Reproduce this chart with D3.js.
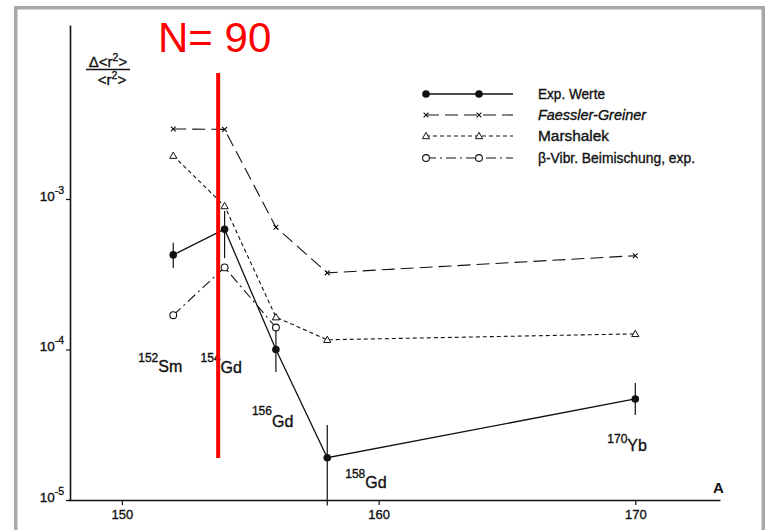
<!DOCTYPE html>
<html>
<head>
<meta charset="utf-8">
<script src="https://cdn.jsdelivr.net/npm/d3@7"></script>
<style>
  html, body { margin: 0; padding: 0; background: #fff; }
  svg { display: block; font-family: "Liberation Sans", Arial, sans-serif; }
</style>
</head>
<body>
<svg id="chart" width="767" height="530"></svg>
<script>
// Mass numbers of the isotopes and their element symbols
const masses = [152, 154, 156, 158, 170];
const massLabels = ["152", "154", "156", "158", "170"];
const elements = ["Sm", "Gd", "Gd", "Gd", "Yb"];

// Relative change of the mean-square charge radius, Δ<r²>/<r²>
const expValues = [4.25e-4, 6.3e-4, 1.0e-4, 1.91e-5, 4.69e-5];
const expErrLow = [3.48e-4, 4.05e-4, 7.1e-5, 9.2e-6, 3.67e-5];
const expErrHigh = [5.11e-4, 8.32e-4, 1.35e-4, 3.15e-5, 5.98e-5];
const faesslerValues = [2.92e-3, 2.9e-3, 6.49e-4, 3.23e-4, 4.2e-4];
const marshalekValues = [1.94e-3, 8.98e-4, 1.64e-4, 1.16e-4, 1.27e-4];
const betaMasses = [152, 154, 156];
const betaValues = [1.69e-4, 3.51e-4, 1.40e-4];

// Axis ticks
const xTicks = [150, 160, 170];
const xTickLabels = ["150", "160", "170"];
const yTicks = [1e-5, 1e-4, 1e-3];
const yTickExponents = ["-5", "-4", "-3"];

// Legend entries
const legendNames = ["Exp. Werte", "Faessler-Greiner", "Marshalek", "β-Vibr. Beimischung, exp."];

// Highlighted neutron number
const markerMass = 153.75;
const markerText = "N= 90";

const svg = d3.select("#chart");
const ink = "#111";

// outer grey frame
svg.append("rect")
  .attr("x", 15.75).attr("y", 7.75)
  .attr("width", 747.5).attr("height", 560)
  .attr("fill", "none").attr("stroke", "#a8a8a8").attr("stroke-width", 3.5);

const x = d3.scaleLinear().domain([147.9, 173.3]).range([68, 720]);
const y = d3.scaleLog().domain([1e-5, Math.pow(10, -1.844)]).range([500, 25]);

// slightly heavy text, like printed lettering
const heavy = sel => sel.attr("stroke", ink).attr("stroke-width", 0.35);

// x axis
const xAxis = d3.axisBottom(x)
  .tickValues(xTicks)
  .tickSize(5)
  .tickSizeOuter(0)
  .tickFormat((d, i) => xTickLabels[i]);
const gx = svg.append("g").attr("transform", "translate(0,500)").call(xAxis);
gx.select(".domain").attr("stroke", ink).attr("stroke-width", 1.6);
gx.selectAll(".tick line").attr("stroke", ink).attr("stroke-width", 1.2);
gx.selectAll(".tick text").attr("fill", ink).attr("font-size", 13).attr("dy", "0.85em").call(heavy);

svg.append("text").attr("x", 713).attr("y", 493)
  .attr("font-size", 15).attr("font-weight", "bold").attr("fill", ink).text("A");

// y axis
const yAxis = d3.axisLeft(y)
  .tickValues(yTicks)
  .tickSize(4)
  .tickSizeOuter(0)
  .tickFormat("");
const gy = svg.append("g").attr("transform", "translate(70,0)").call(yAxis);
gy.select(".domain").attr("stroke", ink).attr("stroke-width", 1.6);
gy.selectAll(".tick line").attr("stroke", ink).attr("stroke-width", 1.2);

const yLab = svg.append("g").selectAll("text").data(yTicks).join("text")
  .attr("x", 64).attr("y", d => y(d) + 2)
  .attr("text-anchor", "end").attr("fill", ink).attr("font-size", 13.5).call(heavy);
yLab.append("tspan").text("10");
yLab.append("tspan").attr("dy", -7).attr("font-size", 10.5).text((d, i) => yTickExponents[i]);

// y axis title as a fraction
const title = svg.append("g").attr("fill", ink);
const num = title.append("text").attr("x", 108).attr("y", 67).attr("text-anchor", "middle")
  .attr("font-size", 15).call(heavy);
num.append("tspan").text("Δ<r");
num.append("tspan").attr("dy", -6).attr("font-size", 10.5).text("2");
num.append("tspan").attr("dy", 6).text(">");
title.append("line").attr("x1", 86).attr("x2", 130).attr("y1", 69.5).attr("y2", 69.5)
  .attr("stroke", ink).attr("stroke-width", 1.3);
const den = title.append("text").attr("x", 112).attr("y", 85).attr("text-anchor", "middle")
  .attr("font-size", 15).call(heavy);
den.append("tspan").text("<r");
den.append("tspan").attr("dy", -6).attr("font-size", 10.5).text("2");
den.append("tspan").attr("dy", 6).text(">");

// series lines
const line = d3.line().x(d => x(d[0])).y(d => y(d[1]));
const pairs = (xs, vs) => xs.map((m, i) => [m, vs[i]]);

const series = [
  { pts: pairs(masses, expValues), dash: null, marker: "dot" },
  { pts: pairs(masses, faesslerValues), dash: "13,6", marker: "cross" },
  { pts: pairs(masses, marshalekValues), dash: "4,3", marker: "tri" },
  { pts: pairs(betaMasses, betaValues), dash: "10,4,2,4", marker: "ring" }
];

function drawMarker(g, kind, cx, cy) {
  if (kind === "dot") {
    g.append("circle").attr("cx", cx).attr("cy", cy).attr("r", 3.8).attr("fill", ink);
  } else if (kind === "cross") {
    const s = 2.4;
    g.append("path")
      .attr("d", `M${cx - s},${cy - s}L${cx + s},${cy + s}M${cx - s},${cy + s}L${cx + s},${cy - s}`)
      .attr("stroke", ink).attr("stroke-width", 1.1).attr("fill", "none");
  } else if (kind === "tri") {
    const s = 3.6;
    g.append("path")
      .attr("d", `M${cx},${cy - s}L${cx + s},${cy + s * 0.75}L${cx - s},${cy + s * 0.75}Z`)
      .attr("stroke", ink).attr("stroke-width", 1).attr("fill", "#fff");
  } else {
    g.append("circle").attr("cx", cx).attr("cy", cy).attr("r", 3.4)
      .attr("stroke", ink).attr("stroke-width", 1.1).attr("fill", "#fff");
  }
}

// error bars on the measured values
svg.append("g").selectAll("line").data(masses).join("line")
  .attr("x1", d => x(d)).attr("x2", d => x(d))
  .attr("y1", (d, i) => y(expErrHigh[i])).attr("y2", (d, i) => y(expErrLow[i]))
  .attr("stroke", ink).attr("stroke-width", 1.2);

const plot = svg.append("g");
series.forEach(s => {
  plot.append("path").datum(s.pts).attr("d", line)
    .attr("fill", "none").attr("stroke", ink)
    .attr("stroke-width", s.dash ? 1.1 : 1.3)
    .attr("stroke-dasharray", s.dash);
});
series.forEach(s => {
  s.pts.forEach(p => drawMarker(plot, s.marker, x(p[0]), y(p[1])));
});

// isotope labels
const labelOffsets = [[-35, 362, 10], [-24, 362, 11], [-24, 415, 12], [18, 478, 10], [-28, 443, 8]];
const iso = svg.append("g").attr("fill", ink);
masses.forEach((m, i) => {
  const [dx, by, dd] = labelOffsets[i];
  const t = iso.append("text").attr("x", x(m) + dx).attr("y", by).call(heavy);
  t.append("tspan").attr("font-size", 12).text(massLabels[i]);
  t.append("tspan").attr("dy", dd).attr("font-size", 16).text(elements[i]);
});

// legend
const lg = svg.append("g");
const legendRows = [94, 115, 136, 158];
const legendWidths = [67, 108, 71, 157];
series.forEach((s, i) => {
  const ly = legendRows[i];
  lg.append("line").attr("x1", 426).attr("x2", 513).attr("y1", ly).attr("y2", ly)
    .attr("stroke", ink).attr("stroke-width", s.dash ? 1.1 : 1.3)
    .attr("stroke-dasharray", s.dash);
  drawMarker(lg, s.marker, 426, ly);
  drawMarker(lg, s.marker, 479, ly);
  lg.append("text").attr("x", 538).attr("y", ly + 5)
    .attr("font-size", 14).attr("fill", ink)
    .attr("textLength", legendWidths[i]).attr("lengthAdjust", "spacingAndGlyphs")
    .attr("font-style", i === 1 ? "italic" : null)
    .call(heavy)
    .text(legendNames[i]);
});

// N = 90 marker
svg.append("line")
  .attr("x1", x(markerMass)).attr("x2", x(markerMass))
  .attr("y1", 73).attr("y2", 458)
  .attr("stroke", "#ff0000").attr("stroke-width", 4);
svg.append("text").attr("x", 158).attr("y", 52)
  .attr("font-size", 42).attr("fill", "#ff0000").text(markerText);
</script>
</body>
</html>
